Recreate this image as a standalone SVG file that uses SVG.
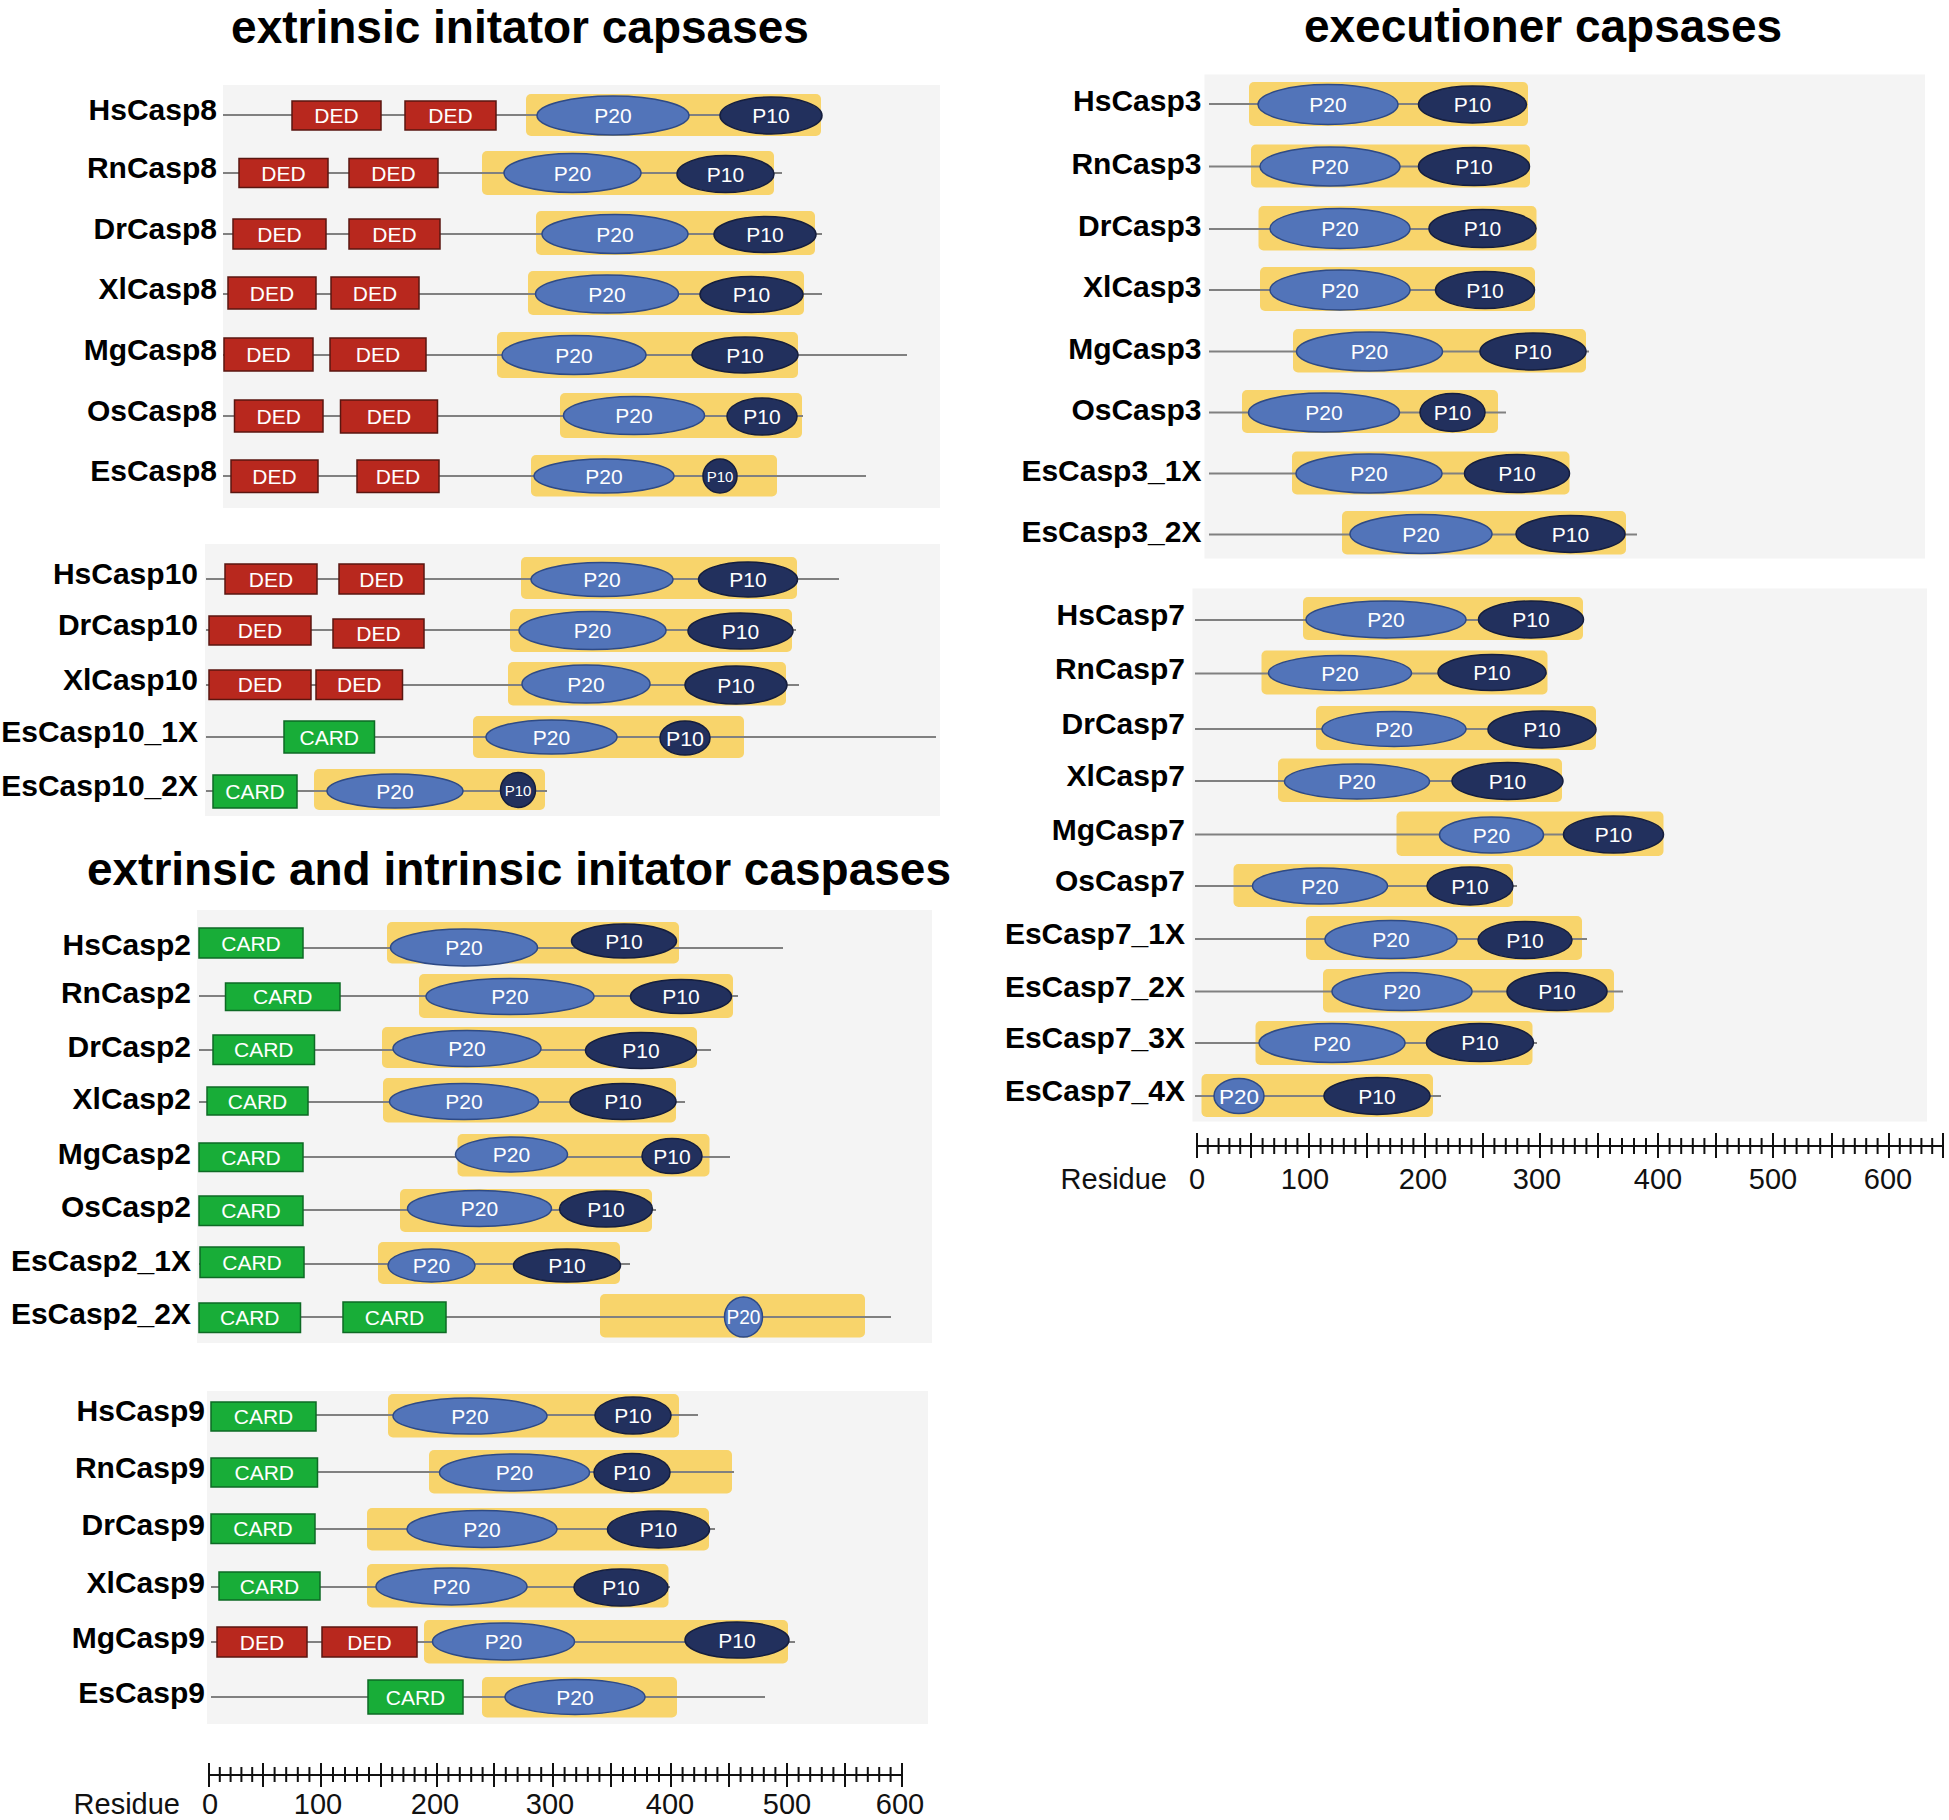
<svg xmlns="http://www.w3.org/2000/svg" width="1949" height="1820" viewBox="0 0 1949 1820">
<style>
.bg{fill:#f4f4f4}
.yb{fill:#f8d46b}
.ln{stroke:#808080;stroke-width:2;fill:none}
.ded{fill:#b8281e;stroke:#5a1610;stroke-width:1.5}
.card{fill:#18ad38;stroke:#0d6a24;stroke-width:1.5}
.p20{fill:#5274b9;stroke:#2e4a86;stroke-width:1.5}
.p10{fill:#22305d;stroke:#151e3e;stroke-width:1.5}
text{font-family:"Liberation Sans",Arial,Helvetica,sans-serif}
.dt{font-size:21px;fill:#fff;text-anchor:middle}
.ds{font-size:15px;fill:#fff;text-anchor:middle}
.lb{font-size:30px;font-weight:bold;fill:#000;text-anchor:end}
.ti{font-size:46px;font-weight:bold;fill:#000;text-anchor:middle}
.ax{font-size:29px;fill:#111;text-anchor:middle}
.tk{stroke:#111;stroke-width:2;fill:none}
</style>
<rect width="1949" height="1820" fill="#fff"/>
<g id="panels">
<rect class="bg" x="223" y="85" width="717" height="423"/>
<rect class="bg" x="205" y="544" width="735" height="272"/>
<rect class="bg" x="197" y="910" width="735" height="433"/>
<rect class="bg" x="207" y="1391" width="721" height="333"/>
<rect class="bg" x="1204.5" y="74.5" width="720.5" height="484"/>
<rect class="bg" x="1192.5" y="588.5" width="734.5" height="533"/>
</g>
<g id="titles">
<text class="ti" x="520" y="43">extrinsic initator capsases</text>
<text class="ti" x="519" y="885">extrinsic and intrinsic initator caspases</text>
<text class="ti" x="1543" y="42">executioner capsases</text>
</g>

<g id="HsCasp8"><rect class="yb" x="526" y="94" width="295" height="42" rx="5"/><path class="ln" d="M223 115H821"/>
<rect class="ded" x="292" y="101" width="89" height="29"/><text class="dt" x="336.5" y="123">DED</text>
<rect class="ded" x="405" y="101" width="91" height="29"/><text class="dt" x="450.5" y="123">DED</text>
<ellipse class="p20" cx="613" cy="115.5" rx="76" ry="19.5"/><text class="dt" x="613" y="123">P20</text>
<ellipse class="p10" cx="771" cy="115.5" rx="51" ry="18.5"/><text class="dt" x="771" y="123">P10</text>
<text class="lb" x="217" y="120">HsCasp8</text></g>

<g id="RnCasp8"><rect class="yb" x="482" y="151" width="292" height="44" rx="5"/><path class="ln" d="M223 173H782"/>
<rect class="ded" x="239" y="158.5" width="89" height="29"/><text class="dt" x="283.5" y="180.5">DED</text>
<rect class="ded" x="349" y="158.5" width="89" height="29"/><text class="dt" x="393.5" y="180.5">DED</text>
<ellipse class="p20" cx="572.5" cy="173" rx="68.5" ry="19.5"/><text class="dt" x="572.5" y="180.5">P20</text>
<ellipse class="p10" cx="725.5" cy="174" rx="48.5" ry="18.5"/><text class="dt" x="725.5" y="181.5">P10</text>
<text class="lb" x="217" y="178">RnCasp8</text></g>

<g id="DrCasp8"><rect class="yb" x="536" y="211" width="279" height="44" rx="5"/><path class="ln" d="M223 234H822"/>
<rect class="ded" x="233" y="219" width="93" height="30"/><text class="dt" x="279.5" y="241.5">DED</text>
<rect class="ded" x="349" y="219" width="91" height="30"/><text class="dt" x="394.5" y="241.5">DED</text>
<ellipse class="p20" cx="615" cy="234" rx="73" ry="19.5"/><text class="dt" x="615" y="241.5">P20</text>
<ellipse class="p10" cx="765" cy="234.5" rx="51" ry="18"/><text class="dt" x="765" y="242">P10</text>
<text class="lb" x="217" y="239">DrCasp8</text></g>

<g id="XlCasp8"><rect class="yb" x="528" y="271" width="276" height="44" rx="5"/><path class="ln" d="M223 294H822"/>
<rect class="ded" x="228" y="277" width="88" height="32"/><text class="dt" x="272" y="300.5">DED</text>
<rect class="ded" x="331" y="277" width="88" height="32"/><text class="dt" x="375" y="300.5">DED</text>
<ellipse class="p20" cx="607" cy="294" rx="71.5" ry="19"/><text class="dt" x="607" y="301.5">P20</text>
<ellipse class="p10" cx="751.5" cy="294.5" rx="51.5" ry="18"/><text class="dt" x="751.5" y="302">P10</text>
<text class="lb" x="217" y="299">XlCasp8</text></g>

<g id="MgCasp8"><rect class="yb" x="497" y="332" width="301" height="46" rx="5"/><path class="ln" d="M223 355H907"/>
<rect class="ded" x="224" y="338" width="89" height="33"/><text class="dt" x="268.5" y="362">DED</text>
<rect class="ded" x="330" y="338" width="96" height="33"/><text class="dt" x="378" y="362">DED</text>
<ellipse class="p20" cx="574" cy="355" rx="72" ry="19.5"/><text class="dt" x="574" y="362.5">P20</text>
<ellipse class="p10" cx="745" cy="355" rx="53" ry="18"/><text class="dt" x="745" y="362.5">P10</text>
<text class="lb" x="217" y="360">MgCasp8</text></g>

<g id="OsCasp8"><rect class="yb" x="560" y="393" width="242" height="45" rx="5"/><path class="ln" d="M223 416H803"/>
<rect class="ded" x="234.5" y="400" width="88.5" height="32"/><text class="dt" x="278.75" y="423.5">DED</text>
<rect class="ded" x="340.5" y="400" width="97" height="33"/><text class="dt" x="389" y="424">DED</text>
<ellipse class="p20" cx="634" cy="415.5" rx="70.5" ry="19"/><text class="dt" x="634" y="423">P20</text>
<ellipse class="p10" cx="762" cy="416.5" rx="35" ry="18.5"/><text class="dt" x="762" y="424">P10</text>
<text class="lb" x="217" y="421">OsCasp8</text></g>

<g id="EsCasp8"><rect class="yb" x="531" y="455" width="246" height="41.5" rx="5"/><path class="ln" d="M223 476H866"/>
<rect class="ded" x="231" y="460" width="87" height="32.5"/><text class="dt" x="274.5" y="483.5">DED</text>
<rect class="ded" x="357" y="460" width="82" height="32.5"/><text class="dt" x="398" y="483.5">DED</text>
<ellipse class="p20" cx="604" cy="476" rx="70" ry="17"/><text class="dt" x="604" y="483.5">P20</text>
<ellipse class="p10" cx="720" cy="476" rx="17" ry="17"/><text class="ds" x="720" y="481.5">P10</text>
<text class="lb" x="217" y="481">EsCasp8</text></g>

<g id="HsCasp10"><rect class="yb" x="521" y="557" width="276" height="42" rx="5"/><path class="ln" d="M206 579H839"/>
<rect class="ded" x="225" y="564" width="92" height="30"/><text class="dt" x="271" y="586.5">DED</text>
<rect class="ded" x="339" y="564" width="85" height="30"/><text class="dt" x="381.5" y="586.5">DED</text>
<ellipse class="p20" cx="602" cy="579.5" rx="71" ry="17"/><text class="dt" x="602" y="587">P20</text>
<ellipse class="p10" cx="748" cy="579.5" rx="49.5" ry="17.5"/><text class="dt" x="748" y="587">P10</text>
<text class="lb" x="198" y="584">HsCasp10</text></g>

<g id="DrCasp10"><rect class="yb" x="510" y="609" width="282" height="43" rx="5"/><path class="ln" d="M206 630H796"/>
<rect class="ded" x="209" y="616" width="102" height="29"/><text class="dt" x="260" y="638">DED</text>
<rect class="ded" x="333" y="619" width="91" height="29"/><text class="dt" x="378.5" y="641">DED</text>
<ellipse class="p20" cx="592.5" cy="630.5" rx="73.5" ry="19"/><text class="dt" x="592.5" y="638">P20</text>
<ellipse class="p10" cx="740.5" cy="631" rx="52.5" ry="18"/><text class="dt" x="740.5" y="638.5">P10</text>
<text class="lb" x="198" y="635">DrCasp10</text></g>

<g id="XlCasp10"><rect class="yb" x="508" y="662" width="278" height="43.5" rx="5"/><path class="ln" d="M206 685H799"/>
<rect class="ded" x="209" y="670" width="102" height="29.5"/><text class="dt" x="260" y="692">DED</text>
<rect class="ded" x="316" y="670" width="86.5" height="29.5"/><text class="dt" x="359.25" y="692">DED</text>
<ellipse class="p20" cx="586" cy="684" rx="64" ry="19"/><text class="dt" x="586" y="691.5">P20</text>
<ellipse class="p10" cx="736" cy="685" rx="51" ry="19"/><text class="dt" x="736" y="692.5">P10</text>
<text class="lb" x="198" y="690">XlCasp10</text></g>

<g id="EsCasp10_1X"><rect class="yb" x="473" y="716" width="271" height="42" rx="5"/><path class="ln" d="M206 737H936"/>
<rect class="card" x="284" y="721" width="90.5" height="32"/><text class="dt" x="329.25" y="744.5">CARD</text>
<ellipse class="p20" cx="551.5" cy="737" rx="65.5" ry="17"/><text class="dt" x="551.5" y="744.5">P20</text>
<ellipse class="p10" cx="685" cy="738" rx="25" ry="17"/><text class="dt" x="685" y="745.5" textLength="38" lengthAdjust="spacingAndGlyphs">P10</text>
<text class="lb" x="198" y="742">EsCasp10_1X</text></g>

<g id="EsCasp10_2X"><rect class="yb" x="314" y="769" width="231" height="41" rx="5"/><path class="ln" d="M206 791H547"/>
<rect class="card" x="213" y="775" width="84" height="33"/><text class="dt" x="255" y="799">CARD</text>
<ellipse class="p20" cx="395" cy="791" rx="68" ry="17"/><text class="dt" x="395" y="798.5">P20</text>
<ellipse class="p10" cx="518" cy="790" rx="17.5" ry="17.5"/><text class="ds" x="518" y="795.5">P10</text>
<text class="lb" x="198" y="796">EsCasp10_2X</text></g>

<g id="HsCasp2"><rect class="yb" x="387" y="922" width="292" height="41.5" rx="5"/><path class="ln" d="M199 948H783"/>
<rect class="card" x="199" y="928" width="104" height="30"/><text class="dt" x="251" y="950.5">CARD</text>
<ellipse class="p20" cx="464" cy="947.5" rx="73.5" ry="18.5"/><text class="dt" x="464" y="955">P20</text>
<ellipse class="p10" cx="624" cy="941" rx="52.5" ry="17"/><text class="dt" x="624" y="948.5">P10</text>
<text class="lb" x="191" y="954.5">HsCasp2</text></g>

<g id="RnCasp2"><rect class="yb" x="419" y="974" width="314" height="44" rx="5"/><path class="ln" d="M199 996H738"/>
<rect class="card" x="225.5" y="983" width="114.5" height="27.5"/><text class="dt" x="282.75" y="1004">CARD</text>
<ellipse class="p20" cx="510" cy="996.5" rx="84" ry="18"/><text class="dt" x="510" y="1004">P20</text>
<ellipse class="p10" cx="681" cy="996.5" rx="50.5" ry="17"/><text class="dt" x="681" y="1004">P10</text>
<text class="lb" x="191" y="1002.5">RnCasp2</text></g>

<g id="DrCasp2"><rect class="yb" x="382" y="1027" width="315" height="41" rx="5"/><path class="ln" d="M199 1050H711"/>
<rect class="card" x="213" y="1035" width="101.5" height="29.5"/><text class="dt" x="263.75" y="1057">CARD</text>
<ellipse class="p20" cx="467" cy="1048.5" rx="74" ry="18"/><text class="dt" x="467" y="1056">P20</text>
<ellipse class="p10" cx="641" cy="1050.5" rx="55.5" ry="18"/><text class="dt" x="641" y="1058">P10</text>
<text class="lb" x="191" y="1056.5">DrCasp2</text></g>

<g id="XlCasp2"><rect class="yb" x="383" y="1078" width="293" height="44.5" rx="5"/><path class="ln" d="M199 1102H685"/>
<rect class="card" x="207" y="1087" width="101" height="28"/><text class="dt" x="257.5" y="1108.5">CARD</text>
<ellipse class="p20" cx="464" cy="1101.5" rx="74.5" ry="18"/><text class="dt" x="464" y="1109">P20</text>
<ellipse class="p10" cx="623" cy="1101.5" rx="53" ry="18"/><text class="dt" x="623" y="1109">P10</text>
<text class="lb" x="191" y="1108.5">XlCasp2</text></g>

<g id="MgCasp2"><rect class="yb" x="457.5" y="1134" width="252" height="42.5" rx="5"/><path class="ln" d="M199 1157H730"/>
<rect class="card" x="199" y="1143" width="104" height="28.5"/><text class="dt" x="251" y="1164.5">CARD</text>
<ellipse class="p20" cx="511.5" cy="1154.5" rx="56" ry="17.5"/><text class="dt" x="511.5" y="1162">P20</text>
<ellipse class="p10" cx="672" cy="1156" rx="30" ry="17.5"/><text class="dt" x="672" y="1163.5">P10</text>
<text class="lb" x="191" y="1163.5">MgCasp2</text></g>

<g id="OsCasp2"><rect class="yb" x="400" y="1189" width="252" height="43" rx="5"/><path class="ln" d="M199 1210H656"/>
<rect class="card" x="199" y="1196" width="104" height="29.5"/><text class="dt" x="251" y="1218">CARD</text>
<ellipse class="p20" cx="479.5" cy="1208.5" rx="72" ry="18"/><text class="dt" x="479.5" y="1216">P20</text>
<ellipse class="p10" cx="606" cy="1209" rx="46.5" ry="18"/><text class="dt" x="606" y="1216.5">P10</text>
<text class="lb" x="191" y="1216.5">OsCasp2</text></g>

<g id="EsCasp2_1X"><rect class="yb" x="378" y="1242" width="242" height="42" rx="5"/><path class="ln" d="M199 1264H630"/>
<rect class="card" x="200" y="1247" width="104" height="30.5"/><text class="dt" x="252" y="1269.5">CARD</text>
<ellipse class="p20" cx="431.5" cy="1265.5" rx="43.5" ry="16.5"/><text class="dt" x="431.5" y="1273">P20</text>
<ellipse class="p10" cx="567" cy="1265.5" rx="53.5" ry="16.5"/><text class="dt" x="567" y="1273">P10</text>
<text class="lb" x="191" y="1270.5">EsCasp2_1X</text></g>

<g id="EsCasp2_2X"><rect class="yb" x="600" y="1294" width="265" height="43.5" rx="5"/><path class="ln" d="M199 1317H891"/>
<rect class="card" x="199" y="1303" width="101.5" height="29.5"/><text class="dt" x="249.75" y="1325">CARD</text>
<rect class="card" x="343" y="1302" width="103" height="30.5"/><text class="dt" x="394.5" y="1324.5">CARD</text>
<ellipse class="p20" cx="743.5" cy="1317" rx="19" ry="20"/><text class="dt" x="743.5" y="1324" textLength="34" lengthAdjust="spacingAndGlyphs">P20</text>
<text class="lb" x="191" y="1323.5">EsCasp2_2X</text></g>

<g id="HsCasp9"><rect class="yb" x="388" y="1394" width="291" height="43.5" rx="5"/><path class="ln" d="M211 1415H698"/>
<rect class="card" x="211" y="1402" width="105" height="29"/><text class="dt" x="263.5" y="1424">CARD</text>
<ellipse class="p20" cx="470" cy="1416" rx="77" ry="18"/><text class="dt" x="470" y="1423.5">P20</text>
<ellipse class="p10" cx="633" cy="1415.5" rx="38" ry="18.5"/><text class="dt" x="633" y="1423">P10</text>
<text class="lb" x="205" y="1421">HsCasp9</text></g>

<g id="RnCasp9"><rect class="yb" x="429" y="1450" width="303" height="43.5" rx="5"/><path class="ln" d="M211 1472H734"/>
<rect class="card" x="211" y="1458" width="106.5" height="29"/><text class="dt" x="264.25" y="1480">CARD</text>
<ellipse class="p20" cx="514.5" cy="1472.5" rx="75" ry="18.5"/><text class="dt" x="514.5" y="1480">P20</text>
<ellipse class="p10" cx="632" cy="1472.5" rx="38" ry="19"/><text class="dt" x="632" y="1480">P10</text>
<text class="lb" x="205" y="1478">RnCasp9</text></g>

<g id="DrCasp9"><rect class="yb" x="367" y="1508" width="342" height="42.5" rx="5"/><path class="ln" d="M211 1529H715"/>
<rect class="card" x="211" y="1514" width="104" height="29.5"/><text class="dt" x="263" y="1536">CARD</text>
<ellipse class="p20" cx="482" cy="1529" rx="75" ry="18.5"/><text class="dt" x="482" y="1536.5">P20</text>
<ellipse class="p10" cx="658.5" cy="1529.5" rx="51" ry="18.5"/><text class="dt" x="658.5" y="1537">P10</text>
<text class="lb" x="205" y="1535">DrCasp9</text></g>

<g id="XlCasp9"><rect class="yb" x="367" y="1564" width="301.5" height="43.5" rx="5"/><path class="ln" d="M211 1587H670"/>
<rect class="card" x="219" y="1572" width="101" height="28"/><text class="dt" x="269.5" y="1593.5">CARD</text>
<ellipse class="p20" cx="451.5" cy="1586.5" rx="75.5" ry="18.5"/><text class="dt" x="451.5" y="1594">P20</text>
<ellipse class="p10" cx="621" cy="1587.5" rx="47" ry="18.5"/><text class="dt" x="621" y="1595">P10</text>
<text class="lb" x="205" y="1593">XlCasp9</text></g>

<g id="MgCasp9"><rect class="yb" x="424" y="1620" width="364" height="43.5" rx="5"/><path class="ln" d="M211 1642H795"/>
<rect class="ded" x="217" y="1627" width="90" height="30"/><text class="dt" x="262" y="1649.5">DED</text>
<rect class="ded" x="322" y="1627" width="95" height="30"/><text class="dt" x="369.5" y="1649.5">DED</text>
<ellipse class="p20" cx="503.5" cy="1641.5" rx="71" ry="18.5"/><text class="dt" x="503.5" y="1649">P20</text>
<ellipse class="p10" cx="737" cy="1640" rx="52" ry="18"/><text class="dt" x="737" y="1647.5">P10</text>
<text class="lb" x="205" y="1648">MgCasp9</text></g>

<g id="EsCasp9"><rect class="yb" x="482" y="1677" width="195" height="40.5" rx="5"/><path class="ln" d="M211 1697H765"/>
<rect class="card" x="368" y="1680" width="95" height="34"/><text class="dt" x="415.5" y="1704.5">CARD</text>
<ellipse class="p20" cx="575" cy="1697" rx="70" ry="17.5"/><text class="dt" x="575" y="1704.5">P20</text>
<text class="lb" x="205" y="1703">EsCasp9</text></g>

<g id="HsCasp3"><rect class="yb" x="1249" y="82" width="279" height="44" rx="5"/><path class="ln" d="M1209 104H1526"/>
<ellipse class="p20" cx="1328" cy="104.5" rx="70" ry="20"/><text class="dt" x="1328" y="112">P20</text>
<ellipse class="p10" cx="1472.5" cy="104.5" rx="54" ry="18.5"/><text class="dt" x="1472.5" y="112">P10</text>
<text class="lb" x="1201.5" y="111">HsCasp3</text></g>

<g id="RnCasp3"><rect class="yb" x="1251" y="144.5" width="279" height="43" rx="5"/><path class="ln" d="M1209 166.5H1530"/>
<ellipse class="p20" cx="1330" cy="166.5" rx="70" ry="19.5"/><text class="dt" x="1330" y="174">P20</text>
<ellipse class="p10" cx="1474" cy="166.5" rx="55.5" ry="19"/><text class="dt" x="1474" y="174">P10</text>
<text class="lb" x="1201.5" y="173.5">RnCasp3</text></g>

<g id="DrCasp3"><rect class="yb" x="1258.5" y="206" width="278" height="44.5" rx="5"/><path class="ln" d="M1209 229H1536"/>
<ellipse class="p20" cx="1340" cy="228.5" rx="70" ry="20"/><text class="dt" x="1340" y="236">P20</text>
<ellipse class="p10" cx="1482.5" cy="228.5" rx="53.5" ry="19"/><text class="dt" x="1482.5" y="236">P10</text>
<text class="lb" x="1201.5" y="236">DrCasp3</text></g>

<g id="XlCasp3"><rect class="yb" x="1260" y="267" width="275" height="44" rx="5"/><path class="ln" d="M1209 290H1534"/>
<ellipse class="p20" cx="1340" cy="290" rx="70" ry="20"/><text class="dt" x="1340" y="297.5">P20</text>
<ellipse class="p10" cx="1485" cy="290" rx="49.5" ry="18.5"/><text class="dt" x="1485" y="297.5">P10</text>
<text class="lb" x="1201.5" y="297">XlCasp3</text></g>

<g id="MgCasp3"><rect class="yb" x="1293" y="329" width="293" height="43.5" rx="5"/><path class="ln" d="M1209 351.5H1589"/>
<ellipse class="p20" cx="1369.5" cy="351.5" rx="73" ry="19.5"/><text class="dt" x="1369.5" y="359">P20</text>
<ellipse class="p10" cx="1533" cy="351.5" rx="53" ry="18.5"/><text class="dt" x="1533" y="359">P10</text>
<text class="lb" x="1201.5" y="358.5">MgCasp3</text></g>

<g id="OsCasp3"><rect class="yb" x="1242" y="390" width="256" height="43" rx="5"/><path class="ln" d="M1209 412.5H1506"/>
<ellipse class="p20" cx="1324" cy="412.5" rx="75.5" ry="19.5"/><text class="dt" x="1324" y="420">P20</text>
<ellipse class="p10" cx="1452.5" cy="412.5" rx="32.5" ry="19"/><text class="dt" x="1452.5" y="420">P10</text>
<text class="lb" x="1201.5" y="419.5">OsCasp3</text></g>

<g id="EsCasp3_1X"><rect class="yb" x="1292" y="451.5" width="277.5" height="43" rx="5"/><path class="ln" d="M1209 473.5H1569"/>
<ellipse class="p20" cx="1369" cy="473.5" rx="73" ry="19.5"/><text class="dt" x="1369" y="481">P20</text>
<ellipse class="p10" cx="1517" cy="473.5" rx="52.5" ry="19"/><text class="dt" x="1517" y="481">P10</text>
<text class="lb" x="1201.5" y="480.5">EsCasp3_1X</text></g>

<g id="EsCasp3_2X"><rect class="yb" x="1342" y="511" width="284" height="43.5" rx="5"/><path class="ln" d="M1209 534.5H1637"/>
<ellipse class="p20" cx="1421" cy="534" rx="71" ry="19.5"/><text class="dt" x="1421" y="541.5">P20</text>
<ellipse class="p10" cx="1570.5" cy="534" rx="54.5" ry="18.5"/><text class="dt" x="1570.5" y="541.5">P10</text>
<text class="lb" x="1201.5" y="541.5">EsCasp3_2X</text></g>

<g id="HsCasp7"><rect class="yb" x="1303" y="597" width="280" height="43" rx="5"/><path class="ln" d="M1195 620H1583"/>
<ellipse class="p20" cx="1386" cy="619.5" rx="80" ry="18.5"/><text class="dt" x="1386" y="627">P20</text>
<ellipse class="p10" cx="1531" cy="619.5" rx="52.5" ry="18.5"/><text class="dt" x="1531" y="627">P10</text>
<text class="lb" x="1185" y="625">HsCasp7</text></g>

<g id="RnCasp7"><rect class="yb" x="1261.5" y="650.5" width="286" height="44" rx="5"/><path class="ln" d="M1195 673.5H1547"/>
<ellipse class="p20" cx="1340" cy="673" rx="71.5" ry="17.5"/><text class="dt" x="1340" y="680.5">P20</text>
<ellipse class="p10" cx="1492" cy="672.5" rx="54" ry="18"/><text class="dt" x="1492" y="680">P10</text>
<text class="lb" x="1185" y="678.5">RnCasp7</text></g>

<g id="DrCasp7"><rect class="yb" x="1316" y="706" width="280" height="44" rx="5"/><path class="ln" d="M1195 729H1596"/>
<ellipse class="p20" cx="1394" cy="729" rx="72" ry="17.5"/><text class="dt" x="1394" y="736.5">P20</text>
<ellipse class="p10" cx="1542" cy="729.5" rx="54" ry="18.5"/><text class="dt" x="1542" y="737">P10</text>
<text class="lb" x="1185" y="734">DrCasp7</text></g>

<g id="XlCasp7"><rect class="yb" x="1278" y="758.5" width="284" height="43.5" rx="5"/><path class="ln" d="M1195 781H1563"/>
<ellipse class="p20" cx="1357" cy="781.5" rx="72.5" ry="17.5"/><text class="dt" x="1357" y="789">P20</text>
<ellipse class="p10" cx="1507.5" cy="781" rx="55.5" ry="18.5"/><text class="dt" x="1507.5" y="788.5">P10</text>
<text class="lb" x="1185" y="786">XlCasp7</text></g>

<g id="MgCasp7"><rect class="yb" x="1396.5" y="811.5" width="267" height="44.5" rx="5"/><path class="ln" d="M1195 834.5H1663"/>
<ellipse class="p20" cx="1491.5" cy="835" rx="52" ry="18"/><text class="dt" x="1491.5" y="842.5">P20</text>
<ellipse class="p10" cx="1613.5" cy="834.5" rx="50" ry="18.5"/><text class="dt" x="1613.5" y="842">P10</text>
<text class="lb" x="1185" y="839.5">MgCasp7</text></g>

<g id="OsCasp7"><rect class="yb" x="1233.5" y="864" width="279.5" height="43" rx="5"/><path class="ln" d="M1195 886H1517"/>
<ellipse class="p20" cx="1320" cy="886" rx="67.5" ry="18"/><text class="dt" x="1320" y="893.5">P20</text>
<ellipse class="p10" cx="1470" cy="886" rx="43" ry="19"/><text class="dt" x="1470" y="893.5">P10</text>
<text class="lb" x="1185" y="891">OsCasp7</text></g>

<g id="EsCasp7_1X"><rect class="yb" x="1306" y="916" width="276" height="44" rx="5"/><path class="ln" d="M1195 939H1587"/>
<ellipse class="p20" cx="1391" cy="939.5" rx="66" ry="19"/><text class="dt" x="1391" y="947">P20</text>
<ellipse class="p10" cx="1525" cy="940" rx="47" ry="18.5"/><text class="dt" x="1525" y="947.5">P10</text>
<text class="lb" x="1185" y="944">EsCasp7_1X</text></g>

<g id="EsCasp7_2X"><rect class="yb" x="1323" y="969" width="291" height="43.5" rx="5"/><path class="ln" d="M1195 991.5H1623"/>
<ellipse class="p20" cx="1402" cy="991.5" rx="70" ry="19"/><text class="dt" x="1402" y="999">P20</text>
<ellipse class="p10" cx="1557" cy="991.5" rx="50" ry="19"/><text class="dt" x="1557" y="999">P10</text>
<text class="lb" x="1185" y="996.5">EsCasp7_2X</text></g>

<g id="EsCasp7_3X"><rect class="yb" x="1255.5" y="1021" width="277" height="44" rx="5"/><path class="ln" d="M1195 1043H1537"/>
<ellipse class="p20" cx="1332" cy="1043" rx="73" ry="19.5"/><text class="dt" x="1332" y="1050.5">P20</text>
<ellipse class="p10" cx="1480" cy="1042.5" rx="53.5" ry="19"/><text class="dt" x="1480" y="1050">P10</text>
<text class="lb" x="1185" y="1048">EsCasp7_3X</text></g>

<g id="EsCasp7_4X"><rect class="yb" x="1201.5" y="1074" width="231.5" height="43" rx="5"/><path class="ln" d="M1195 1096H1441"/>
<ellipse class="p20" cx="1239" cy="1096" rx="25" ry="17.5"/><text class="dt" x="1239" y="1103.5" textLength="40" lengthAdjust="spacingAndGlyphs">P20</text>
<ellipse class="p10" cx="1377" cy="1096" rx="53" ry="18.5"/><text class="dt" x="1377" y="1103.5">P10</text>
<text class="lb" x="1185" y="1101">EsCasp7_4X</text></g>

<g id="axis-left">
<path class="tk" d="M209 1775H902"/>
<path class="tk" d="M209 1763V1787M263 1763V1787M321 1763V1787M381 1763V1787M437 1763V1787M494 1763V1787M553 1763V1787M611 1763V1787M671 1763V1787M729 1763V1787M787 1763V1787M845 1763V1787M902 1763V1787"/>
<path class="tk" d="M219.8 1767V1782M230.6 1767V1782M241.4 1767V1782M252.2 1767V1782M274.6 1767V1782M286.2 1767V1782M297.8 1767V1782M309.4 1767V1782M333 1767V1782M345 1767V1782M357 1767V1782M369 1767V1782M392.2 1767V1782M403.4 1767V1782M414.6 1767V1782M425.8 1767V1782M448.4 1767V1782M459.8 1767V1782M471.2 1767V1782M482.6 1767V1782M505.8 1767V1782M517.6 1767V1782M529.4 1767V1782M541.2 1767V1782M564.6 1767V1782M576.2 1767V1782M587.8 1767V1782M599.4 1767V1782M623 1767V1782M635 1767V1782M647 1767V1782M659 1767V1782M682.6 1767V1782M694.2 1767V1782M705.8 1767V1782M717.4 1767V1782M740.6 1767V1782M752.2 1767V1782M763.8 1767V1782M775.4 1767V1782M798.6 1767V1782M810.2 1767V1782M821.8 1767V1782M833.4 1767V1782M856.4 1767V1782M867.8 1767V1782M879.2 1767V1782M890.6 1767V1782"/>
<text class="ax" x="180" y="1813.5" style="text-anchor:end">Residue</text>
<text class="ax" x="210" y="1813.5">0</text>
<text class="ax" x="318" y="1813.5">100</text>
<text class="ax" x="435" y="1813.5">200</text>
<text class="ax" x="550" y="1813.5">300</text>
<text class="ax" x="670" y="1813.5">400</text>
<text class="ax" x="787" y="1813.5">500</text>
<text class="ax" x="900" y="1813.5">600</text>
</g>

<g id="axis-right">
<path class="tk" d="M1197 1146H1943"/>
<path class="tk" d="M1197 1133V1158M1251 1133V1158M1309 1133V1158M1367 1133V1158M1425 1133V1158M1483 1133V1158M1540 1133V1158M1598 1133V1158M1658 1133V1158M1716 1133V1158M1773 1133V1158M1832 1133V1158M1889 1133V1158M1943 1133V1158"/>
<path class="tk" d="M1207.8 1138V1154M1218.6 1138V1154M1229.4 1138V1154M1240.2 1138V1154M1262.6 1138V1154M1274.2 1138V1154M1285.8 1138V1154M1297.4 1138V1154M1320.6 1138V1154M1332.2 1138V1154M1343.8 1138V1154M1355.4 1138V1154M1378.6 1138V1154M1390.2 1138V1154M1401.8 1138V1154M1413.4 1138V1154M1436.6 1138V1154M1448.2 1138V1154M1459.8 1138V1154M1471.4 1138V1154M1494.4 1138V1154M1505.8 1138V1154M1517.2 1138V1154M1528.6 1138V1154M1551.6 1138V1154M1563.2 1138V1154M1574.8 1138V1154M1586.4 1138V1154M1610 1138V1154M1622 1138V1154M1634 1138V1154M1646 1138V1154M1669.6 1138V1154M1681.2 1138V1154M1692.8 1138V1154M1704.4 1138V1154M1727.4 1138V1154M1738.8 1138V1154M1750.2 1138V1154M1761.6 1138V1154M1784.8 1138V1154M1796.6 1138V1154M1808.4 1138V1154M1820.2 1138V1154M1843.4 1138V1154M1854.8 1138V1154M1866.2 1138V1154M1877.6 1138V1154M1899.8 1138V1154M1910.6 1138V1154M1921.4 1138V1154M1932.2 1138V1154"/>
<text class="ax" x="1167" y="1189" style="text-anchor:end">Residue</text>
<text class="ax" x="1197" y="1189">0</text>
<text class="ax" x="1305" y="1189">100</text>
<text class="ax" x="1423" y="1189">200</text>
<text class="ax" x="1537" y="1189">300</text>
<text class="ax" x="1658" y="1189">400</text>
<text class="ax" x="1773" y="1189">500</text>
<text class="ax" x="1888" y="1189">600</text>
</g>
</svg>
